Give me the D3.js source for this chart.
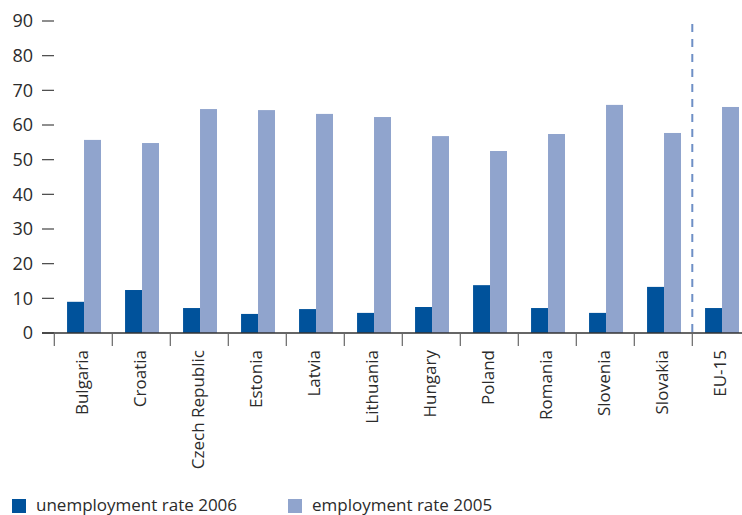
<!DOCTYPE html>
<html>
<head>
<meta charset="utf-8">
<script src="https://cdn.jsdelivr.net/npm/d3@7"></script>
<style>
  body { margin: 0; background: #fff; }
  svg { display: block; font-family: "Open Sans", sans-serif; }
</style>
</head>
<body>
<div id="chart"></div>
<script>
// dades
const countries = ["Bulgaria", "Croatia", "Czech Republic", "Estonia", "Latvia", "Lithuania",
                   "Hungary", "Poland", "Romania", "Slovenia", "Slovakia", "EU-15"];
const unemployment2006 = [9.0, 12.4, 7.2, 5.5, 6.9, 5.8, 7.5, 13.8, 7.2, 5.8, 13.3, 7.2];
const employment2005 = [55.7, 54.8, 64.6, 64.3, 63.2, 62.3, 56.8, 52.5, 57.4, 65.8, 57.7, 65.2];
const seriesNames = ["unemployment rate 2006", "employment rate 2005"];
const yTicks = [0, 10, 20, 30, 40, 50, 60, 70, 80, 90];

const colors = ["#00529b", "#90a4cd"];

const W = 742, H = 515;
const svg = d3.select("#chart").append("svg")
    .attr("width", W)
    .attr("height", H);

// escales
const y = d3.scaleLinear().domain([0, 90]).range([333, 21]);
const x = d3.scaleBand().domain(countries).range([54.3, 54.3 + 58 * 12]).padding(0);
const bw = x.bandwidth();
const x1 = d3.scaleBand().domain([0, 1]).range([bw * 0.22, bw * 0.805]).padding(0);

// eix Y (marques curtes sense linia)
const yAxis = svg.append("g");
yAxis.selectAll("line")
    .data(yTicks)
    .enter().append("line")
    .attr("x1", 42).attr("x2", 54)
    .attr("y1", d => y(d)).attr("y2", d => y(d))
    .attr("stroke", "#444").attr("stroke-width", 1.2);
yAxis.selectAll("text")
    .data(yTicks)
    .enter().append("text")
    .attr("x", 33)
    .attr("y", d => y(d))
    .attr("dy", "0.36em")
    .attr("text-anchor", "end")
    .style("font-size", "18px")
    .style("fill", "#2b2b2b")
    .text(d => d);

// barres
const groups = svg.selectAll(".grp")
    .data(countries)
    .enter().append("g")
    .attr("class", "grp")
    .attr("transform", d => `translate(${x(d)},0)`);

groups.append("rect")
    .attr("x", x1(0))
    .attr("width", x1.bandwidth())
    .attr("y", (d, i) => y(unemployment2006[i]))
    .attr("height", (d, i) => y(0) - y(unemployment2006[i]))
    .attr("fill", colors[0]);

groups.append("rect")
    .attr("x", x1(1))
    .attr("width", x1.bandwidth())
    .attr("y", (d, i) => y(employment2005[i]))
    .attr("height", (d, i) => y(0) - y(employment2005[i]))
    .attr("fill", colors[1]);

// linia discontinua abans de EU-15
svg.append("line")
    .attr("x1", x("EU-15")).attr("x2", x("EU-15"))
    .attr("y1", 24).attr("y2", y(0))
    .attr("stroke", "#6e8fc6")
    .attr("stroke-width", 2)
    .attr("stroke-dasharray", "8,7");

// eix X
const xAxis = svg.append("g").attr("transform", `translate(0,${y(0)})`);
xAxis.append("line")
    .attr("x1", 42).attr("x2", W)
    .attr("stroke", "#333").attr("stroke-width", 1.3);
xAxis.selectAll(".tick")
    .data(countries)
    .enter().append("line")
    .attr("x1", d => x(d)).attr("x2", d => x(d))
    .attr("y1", 0).attr("y2", 13)
    .attr("stroke", "#666").attr("stroke-width", 1.2);
xAxis.selectAll(".lbl")
    .data(countries)
    .enter().append("text")
    .attr("transform", d => `translate(${x(d) + bw / 2 - 1},17) rotate(-90)`)
    .attr("dy", "0.36em")
    .attr("text-anchor", "end")
    .style("font-size", "17px")
    .style("fill", "#2b2b2b")
    .text(d => d);

// llegenda
const legendX = [12, 288];
const legend = svg.selectAll(".leg")
    .data(seriesNames)
    .enter().append("g")
    .attr("transform", (d, i) => `translate(${legendX[i]},499)`);
legend.append("rect")
    .attr("width", 14).attr("height", 14)
    .attr("fill", (d, i) => colors[i]);
legend.append("text")
    .attr("x", 24).attr("y", 12)
    .style("font-size", "17px")
    .style("fill", "#2b2b2b")
    .text(d => d);
</script>
</body>
</html>
